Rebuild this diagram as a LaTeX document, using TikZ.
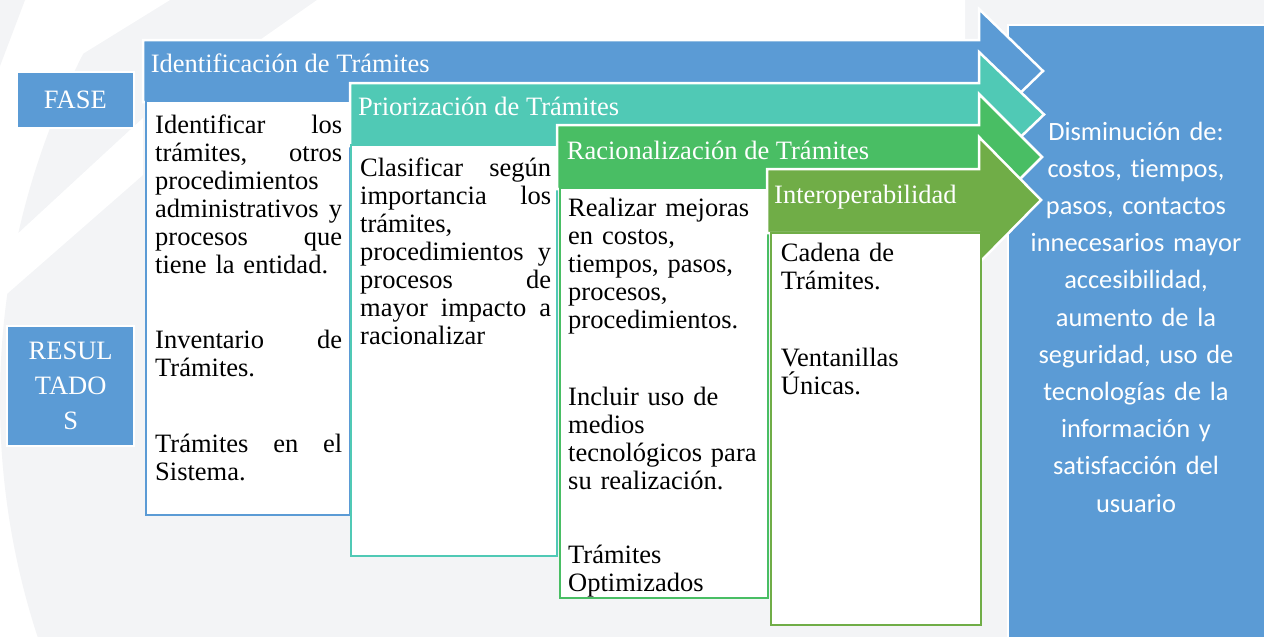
\documentclass[tikz,border=0pt]{standalone}
\usepackage{fontspec}
\setmainfont{Liberation Serif}
\newfontfamily\calfont[Ligatures=NoCommon]{Carlito}
\definecolor{cblue}{HTML}{5B9BD5}
\definecolor{cteal}{HTML}{50C9B5}
\definecolor{cgreen}{HTML}{49BE64}
\definecolor{colive}{HTML}{70AD47}
\definecolor{bggray}{HTML}{F3F4F6}
\begin{document}
\begin{tikzpicture}[x=1pt,y=-1pt,
  band/.style={draw=white, line width=2.5pt, line join=miter},
  bodybox/.style={fill=white, line width=2.5pt},
  headtxt/.style={anchor=base west, inner sep=0pt, text=white, font=\fontsize{26.5}{28}\selectfont},
  bodytxt/.style={anchor=base west, inner sep=0pt, text width=#1, align=left, font=\fontsize{26.5}{28}\selectfont},
  sidebox/.style={fill=cblue, draw=white, line width=2.5pt, text=white, align=center, inner sep=0pt, font=\fontsize{26.5}{35}\selectfont}
]
\useasboundingbox (0,0) rectangle (1264,637);
\clip (0,0) rectangle (1264,637);
% background
\fill[white] (0,0) rectangle (1264,637);
\fill[bggray] (760,400) circle (760pt);
\fill[white] (25,0) -- (170,0) -- (0,105) -- (0,66) -- cycle;
\fill[bggray] (0,0) -- (25,0) -- (0,66) -- cycle;
\fill[white] (317,0) -- (965,0) -- (965,42) -- (257,42) -- cycle;
\fill[white] (143,118) -- (143,175) -- (0,300) -- (0,250) -- cycle;

% result box
\draw[fill=cblue, draw=white, line width=2.5pt] (1008,25) rectangle (1275,650);
\node[anchor=base, inner sep=0pt, text width=250pt, align=center, text=white,
  font=\calfont\fontsize{26.4}{37.2}\selectfont] (res) at (1136,140)
  {Disminución de:\\costos, tiempos,\\pasos, contactos\\innecesarios mayor\\accesibilidad,\\aumento de la\\seguridad, uso de\\tecnologías de la\\información y\\satisfacción del\\usuario};

% side labels
\node[sidebox, minimum width=117pt, minimum height=56pt] (fase) at (75.3,100) {FASE};
\node[sidebox, minimum width=127pt, minimum height=120pt] (resul) at (70.7,386) {RESUL\\TADO\\S};

% arrow 1
\draw[band, fill=cblue] (143,40) -- (979,40) -- (979,9) -- (1043,71) -- (979,133) -- (979,102) -- (143,102) -- cycle;
\node[headtxt] (h1) at (150.7,72.7) {Identificación de Trámites};
\draw[bodybox, draw=cblue] (146,101) rectangle (350,515);
\node[bodytxt=187pt] (b1a) at (155,133.3) {Identificar\hfill los\\trámites,\hfill otros\\procedimientos\\administrativos\hfill y\\procesos\hfill que\\tiene la entidad.};
\node[bodytxt=187pt] (b1b) at (155,348.3) {Inventario\hfill de\\Trámites.};
\node[bodytxt=187pt] (b1c) at (155,452.7) {Trámites\hfill en\hfill el\\Sistema.};

% arrow 2
\draw[band, fill=cteal] (350,83) -- (979,83) -- (979,52) -- (1044,114.5) -- (979,177) -- (979,146) -- (350,146) -- cycle;
\node[headtxt] (h2) at (358,115) {Priorización de Trámites};
\draw[bodybox, draw=cteal] (351,145) rectangle (557,556);
\node[bodytxt=191pt] (b2a) at (360,176.7) {Clasificar\hfill según\\importancia\hfill los\\trámites,\\procedimientos\hfill y\\procesos\hfill de\\mayor\hfill impacto\hfill a\\racionalizar};

% arrow 3
\draw[band, fill=cgreen] (557,125) -- (979,125) -- (979,94) -- (1042,157) -- (979,220) -- (979,189) -- (557,189) -- cycle;
\node[headtxt] (h3) at (566.7,159.3) {Racionalización de Trámites};
\draw[bodybox, draw=cgreen] (560,188) rectangle (768,598);
\node[bodytxt=195pt] (b3a) at (568,216.7) {Realizar mejoras\\en costos,\\tiempos, pasos,\\procesos,\\procedimientos.};
\node[bodytxt=195pt] (b3b) at (568,405) {Incluir uso de\\medios\\tecnológicos para\\su realización.};
\node[bodytxt=195pt] (b3c) at (568,563) {Trámites\\Optimizados};

% arrow 4
\draw[band, fill=colive] (767,169) -- (979,169) -- (979,137) -- (1041,200) -- (979,263) -- (979,233) -- (767,233) -- cycle;
\node[headtxt] (h4) at (774,203.3) {Interoperabilidad};
\draw[bodybox, draw=colive] (771,233) rectangle (981,625);
\node[bodytxt=192pt] (b4a) at (780.7,261.7) {Cadena de\\Trámites.};
\node[bodytxt=192pt] (b4b) at (780.7,366.7) {Ventanillas\\Únicas.};
\end{tikzpicture}
\end{document}
